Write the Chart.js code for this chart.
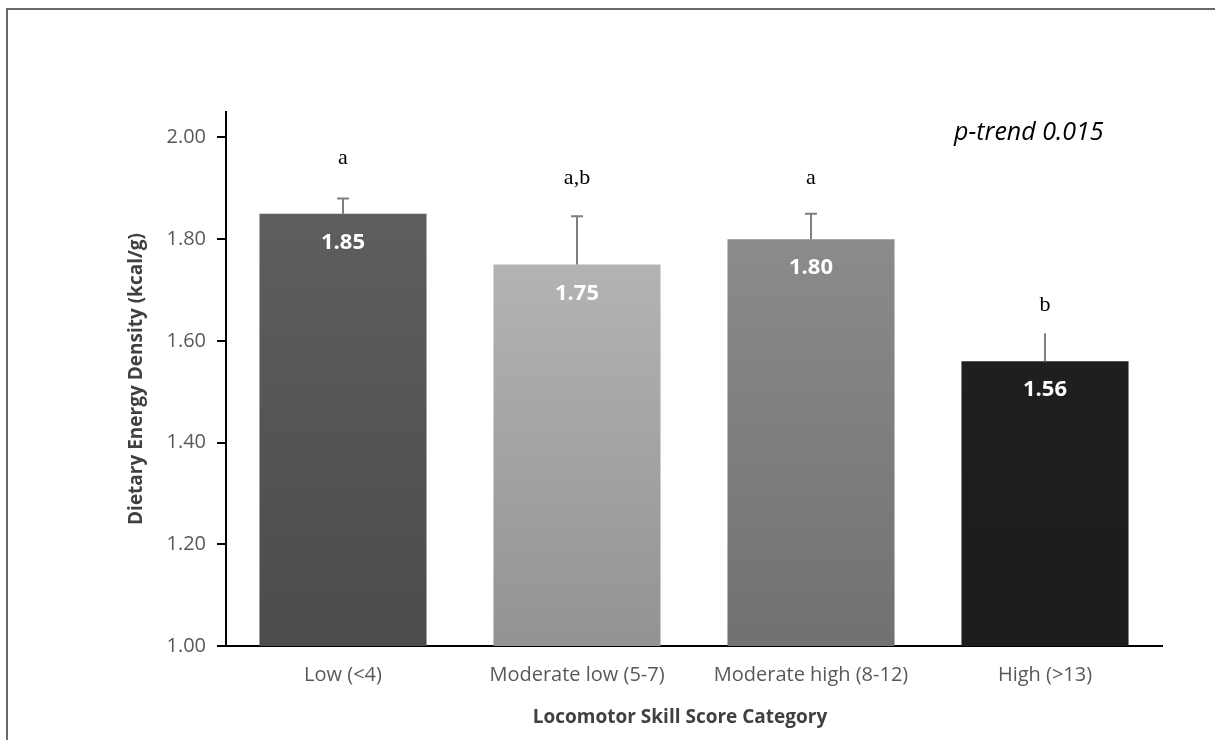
<!DOCTYPE html>
<html>
<head>
<meta charset="utf-8">
<script src="https://cdn.jsdelivr.net/npm/chart.js"></script>
<style>
  html, body { margin: 0; padding: 0; background: #fff; }
  #wrap { position: relative; width: 1215px; height: 740px; }
  #frame { position: absolute; left: 6px; top: 8px; right: -4px; bottom: -4px; border-left: 2px solid #6a6a6a; border-top: 2px solid #6a6a6a; pointer-events: none; }
</style>
</head>
<body>
<div id="wrap">
  <canvas id="chart" width="1215" height="740"></canvas>
  <div id="frame"></div>
</div>
<script>
// data
const categories = ['Low (<4)', 'Moderate low (5-7)', 'Moderate high (8-12)', 'High (>13)'];
const means = [1.85, 1.75, 1.80, 1.56];
const errUp = [0.03, 0.095, 0.05, 0.055];
const letters = ['a', 'a,b', 'a', 'b'];
const letterAt = [1.96, 1.92, 1.92, 1.67];
const yTicks = [1.00, 1.20, 1.40, 1.60, 1.80, 2.00];
const pTrend = 'p-trend 0.015';
const xTitle = 'Locomotor Skill Score Category';

// bar fills (top, bottom of gradient)
const barTop = ['#5e5e5e', '#b3b3b3', '#8b8b8b', '#1f1f1f'];
const barBottom = ['#4d4b4b', '#939393', '#717171', '#1c1c1c'];
const errCap = [true, true, true, false];

function barFill(ctx){
    const chart = ctx.chart;
    const area = chart.chartArea;
    if (!area) return barTop[ctx.dataIndex];
    const y = chart.scales.y;
    const g = chart.ctx.createLinearGradient(0, y.getPixelForValue(means[ctx.dataIndex]), 0, area.bottom);
    g.addColorStop(0, barTop[ctx.dataIndex]);
    g.addColorStop(1, barBottom[ctx.dataIndex]);
    return g;
}

const annotate = {
    id: 'annotate',
    afterDatasetsDraw(chart){
        const c = chart.ctx;
        const x = chart.scales.x, y = chart.scales.y;
        c.save();
        // error bars (upper only)
        c.strokeStyle = '#7f7f7f';
        c.lineWidth = 2;
        means.forEach((m, i) => {
            const px = x.getPixelForValue(i);
            const top = y.getPixelForValue(m + errUp[i]);
            c.beginPath();
            c.moveTo(px, y.getPixelForValue(m));
            c.lineTo(px, top);
            if (errCap[i]) { c.moveTo(px - 6, top); c.lineTo(px + 6, top); }
            c.stroke();
        });
        // value labels inside bars
        c.fillStyle = '#ffffff';
        c.font = 'bold 22px "Open Sans"';
        c.textAlign = 'center';
        c.textBaseline = 'middle';
        means.forEach((m, i) => {
            c.fillText(m.toFixed(2), x.getPixelForValue(i), y.getPixelForValue(m) + 29);
        });
        // significance letters
        c.fillStyle = '#000000';
        c.font = '22px "Liberation Serif"';
        letters.forEach((t, i) => {
            c.fillText(t, x.getPixelForValue(i), y.getPixelForValue(letterAt[i]));
        });
        // p-trend
        c.font = 'italic 25px "Open Sans"';
        c.textAlign = 'left';
        c.fillText(pTrend, 954, 133);
        // x axis title (sits a bit left of the plot centre in the original)
        c.fillStyle = '#404040';
        c.font = 'bold 19px "Open Sans"';
        c.textAlign = 'center';
        c.fillText(xTitle, 680, 718);
        c.restore();
    }
};

new Chart(document.getElementById('chart').getContext('2d'), {
    type: 'bar',
    data: {
        labels: categories,
        datasets: [{
            data: means,
            backgroundColor: barFill,
            borderWidth: 0,
            barPercentage: 0.714,
            categoryPercentage: 1.0
        }]
    },
    options: {
        responsive: false,
        animation: false,
        events: [],
        layout: { padding: { left: 0, right: 53, top: 112, bottom: 0 } },
        plugins: { legend: { display: false }, tooltip: { enabled: false } },
        scales: {
            x: {
                grid: { display: false, drawTicks: false },
                border: { display: true, color: '#000', width: 2 },
                ticks: { color: '#595959', font: { family: 'Open Sans', size: 20 }, padding: 17, maxRotation: 0 },
                afterFit(s){ s.height = 94; }
            },
            y: {
                min: 1.0,
                max: 2.05,
                afterBuildTicks(s){ s.ticks = yTicks.map(v => ({ value: v })); },
                grid: { display: true, drawOnChartArea: false, drawTicks: true, tickLength: 9, color: '#000', lineWidth: 2 },
                border: { display: true, color: '#000', width: 2 },
                ticks: { color: '#595959', font: { family: 'Open Sans', size: 20 }, padding: 11,
                         callback: v => Number(v).toFixed(2) },
                title: { display: true, text: 'Dietary Energy Density (kcal/g)', color: '#404040',
                         font: { family: 'Open Sans', size: 19, weight: 'bold' }, padding: { top: 125, bottom: 0 } },
                afterFit(s){ s.width = 226; }
            }
        }
    },
    plugins: [annotate]
});
</script>
</body>
</html>
